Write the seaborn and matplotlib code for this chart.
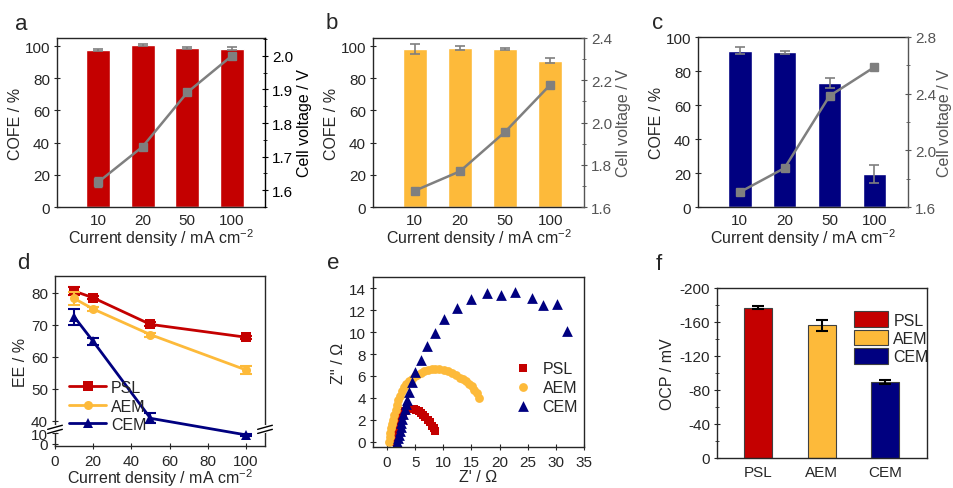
import numpy as np
import pandas as pd
import matplotlib
matplotlib.use('Agg')
import matplotlib.pyplot as plt
import seaborn as sns
from matplotlib.ticker import MultipleLocator, FixedLocator

# ============================================================
# DATA
# ============================================================

densities = ['10', '20', '50', '100']
density_vals = [10, 20, 50, 100]

# panel a (PSL)
cofe_a = [97.3, 100.6, 98.8, 98.4]
cofe_a_err = [0.6, 0.6, 0.5, 0.8]
volt_a = [1.624, 1.730, 1.891, 2.000]
volt_a_err = [0.015, 0.006, 0.006, 0.008]

# panel b (AEM)
cofe_b = [98.3, 98.8, 98.0, 91.0]
cofe_b_err = [3.0, 1.5, 0.5, 1.5]
volt_b = [1.677, 1.769, 1.956, 2.179]
volt_b_err = [0.008, 0.008, 0.008, 0.008]

# panel c (CEM)
cofe_c = [92.0, 91.0, 73.0, 19.5]
cofe_c_err = [2.0, 1.0, 3.0, 5.5]
volt_c = [1.704, 1.875, 2.384, 2.588]
volt_c_err = [0.010, 0.010, 0.012, 0.010]

# panel d (energy efficiency)
ee_psl = [80.5, 78.4, 70.1, 66.1]
ee_psl_err = [1.2, 0.5, 0.6, 0.5]
ee_aem = [78.2, 74.9, 66.9, 55.9]
ee_aem_err = [2.0, 0.5, 0.6, 1.2]
ee_cem = [72.5, 64.8, 40.8, 8.5]
ee_cem_err = [2.5, 1.0, 1.5, 1.0]

# panel e (Nyquist)
psl_zre = [1.2, 1.35, 1.5, 1.7, 1.9, 2.1, 2.35, 2.6, 2.9, 3.2, 3.6, 4.0, 4.4,
           4.8, 5.2, 5.6, 6.0, 6.4, 6.8, 7.2, 7.6, 8.0, 8.3, 8.6]
psl_zim = [0.0, 0.3, 0.6, 1.0, 1.35, 1.7, 2.05, 2.35, 2.6, 2.8, 2.95, 3.0, 3.0,
           2.95, 2.85, 2.75, 2.6, 2.45, 2.25, 2.0, 1.75, 1.45, 1.2, 1.0]
aem_zre = [0.3, 0.45, 0.6, 0.75, 0.9, 1.1, 1.3, 1.5, 1.75, 2.0, 2.3, 2.65, 3.0,
           3.45, 3.9, 4.4, 4.9, 5.4, 6.0, 6.6, 7.2, 7.9, 8.6, 9.3, 10.1, 10.8,
           11.5, 12.2, 12.9, 13.5, 14.1, 14.6, 15.1, 15.5, 15.9, 16.3]
aem_zim = [0.0, 0.4, 0.8, 1.2, 1.6, 2.0, 2.45, 2.9, 3.35, 3.8, 4.2, 4.6, 4.95,
           5.3, 5.55, 5.75, 5.95, 6.1, 6.3, 6.45, 6.55, 6.62, 6.68, 6.65, 6.55,
           6.42, 6.25, 6.05, 5.85, 5.75, 5.55, 5.3, 5.05, 4.75, 4.4, 4.0]
cem_zre = [1.8, 1.95, 2.1, 2.25, 2.4, 2.55, 2.7, 2.9, 3.1, 3.3, 3.5, 3.85, 4.4,
           5.0, 6.0, 7.1, 8.5, 10.2, 12.5, 14.9, 17.7, 20.2, 22.7, 25.7, 27.7,
           30.2, 31.9]
cem_zim = [0.0, 0.3, 0.6, 0.95, 1.3, 1.7, 2.1, 2.55, 3.0, 3.4, 3.8, 4.5, 5.4,
           6.4, 7.47, 8.75, 9.97, 11.25, 12.2, 13.0, 13.6, 13.4, 13.7, 13.1,
           12.5, 12.6, 10.1]

# panel f (OCP)
membranes = ['PSL', 'AEM', 'CEM']
ocp = [-177.0, -156.0, -89.5]
ocp_err = [1.5, 6.0, 2.0]

RED = '#C40000'
YELLOW = '#FDBA3A'
NAVY = '#000080'
GRAY = '#7F7F7F'
colors = {'PSL': RED, 'AEM': YELLOW, 'CEM': NAVY}

XLABEL = 'Current density / mA cm$^{\\mathregular{-2}}$'

# ============================================================
# STYLE
# ============================================================

sns.set_style('ticks')
plt.rcParams['font.family'] = ['Liberation Sans', 'DejaVu Sans']
plt.rcParams['mathtext.fontset'] = 'custom'
plt.rcParams['mathtext.rm'] = 'Liberation Sans'
plt.rcParams['axes.unicode_minus'] = False
plt.rcParams['axes.linewidth'] = 1.0
plt.rcParams['xtick.direction'] = 'inout'
plt.rcParams['ytick.direction'] = 'inout'
plt.rcParams['xtick.major.size'] = 5
plt.rcParams['ytick.major.size'] = 5
plt.rcParams['ytick.minor.size'] = 3
plt.rcParams['xtick.major.pad'] = 3
plt.rcParams['ytick.major.pad'] = 2.5
plt.rcParams['xtick.labelsize'] = 11
plt.rcParams['ytick.labelsize'] = 11
plt.rcParams['axes.labelsize'] = 11.5

fig = plt.figure(figsize=(9.54, 4.89), dpi=100)
W, H = 954, 489


def box(l, r, t, b):
    return [l / W, 1 - b / H, (r - l) / W, (b - t) / H]


# ============================================================
# PANELS a-c : COFE bars + cell voltage line
# ============================================================

bar_panels = [
    (box(57, 265, 39, 208), cofe_a, cofe_a_err, volt_a, volt_a_err, RED,
     (0, 105), (1.55, 2.053), 0.1, 0.05, 'black', 3),
    (box(373, 584, 39, 208), cofe_b, cofe_b_err, volt_b, volt_b_err, YELLOW,
     (0, 105), (1.6, 2.4), 0.2, 0.1, '#555555', 3),
    (box(698, 908, 38, 208), cofe_c, cofe_c_err, volt_c, volt_c_err, NAVY,
     (0, 100), (1.6, 2.8), 0.4, 0.2, '#555555', 1),
]

for (rect, cofe, cofe_err, volt, volt_err, col, ylim1, ylim2, maj, mnr,
     rcol, rpad) in bar_panels:
    ax = fig.add_axes(rect)
    df = pd.DataFrame({'density': densities, 'cofe': cofe})
    sns.barplot(data=df, x='density', y='cofe', color=col, saturation=1,
                width=0.53, ax=ax)
    ax.errorbar(np.arange(len(densities)), cofe, yerr=cofe_err, fmt='none',
                ecolor=GRAY, elinewidth=1.2, capsize=3.5, capthick=1.2)
    ax.set_xlim(-0.925, 3.745)
    ax.set_ylim(*ylim1)
    ax.yaxis.set_major_locator(MultipleLocator(20))
    ax.tick_params(axis='x', length=0, pad=4)
    ax.set_xlabel(XLABEL, labelpad=0)
    ax.set_ylabel('COFE / %', labelpad=1)

    ax2 = ax.twinx()
    ax2.errorbar(np.arange(len(densities)), volt, yerr=volt_err, color=GRAY,
                 marker='s', ms=5.5, lw=1.8, capsize=3, elinewidth=1.2)
    ax2.set_ylim(*ylim2)
    ax2.yaxis.set_major_locator(MultipleLocator(maj))
    ax2.yaxis.set_minor_locator(MultipleLocator(mnr))
    ax2.tick_params(axis='y', which='both', colors=rcol, labelcolor=rcol)
    ax2.spines['right'].set_color(rcol)
    ax2.set_ylabel('Cell voltage / V', color=rcol, labelpad=rpad)
    for s in ['top', 'left', 'bottom']:
        ax2.spines[s].set_visible(False)
    ax.spines['top'].set_visible(True)
    ax.spines['right'].set_visible(False)

# ============================================================
# PANEL d : EE with broken axis
# ============================================================

B_LO, B_HI = 13.0, 37.6
R_LO = 0.33
EPS = 0.02


def fwd(y):
    y = np.asarray(y, dtype=float)
    lo = y * R_LO
    mid = B_LO * R_LO + (y - B_LO) * EPS
    hi = B_LO * R_LO + (B_HI - B_LO) * EPS + (y - B_HI)
    return np.where(y <= B_LO, lo, np.where(y <= B_HI, mid, hi))


def inv(v):
    v = np.asarray(v, dtype=float)
    v1 = B_LO * R_LO
    v2 = v1 + (B_HI - B_LO) * EPS
    lo = v / R_LO
    mid = B_LO + (v - v1) / EPS
    hi = B_HI + (v - v2)
    return np.where(v <= v1, lo, np.where(v <= v2, mid, hi))


axd = fig.add_axes(box(55, 265, 277, 447))
axd.set_yscale('function', functions=(fwd, inv))
ee_series = [('PSL', ee_psl, ee_psl_err, 's'),
             ('AEM', ee_aem, ee_aem_err, 'o'),
             ('CEM', ee_cem, ee_cem_err, '^')]
for name, vals, errs, mk in ee_series:
    sns.lineplot(x=density_vals, y=vals, color=colors[name], marker=mk,
                 markersize=6.5, markeredgewidth=0, lw=2, label=name, ax=axd)
    axd.errorbar(density_vals, vals, yerr=errs, fmt='none',
                 ecolor=colors[name], elinewidth=1.5, capsize=4, capthick=1.5)
axd.set_xlim(0, 110)
axd.set_ylim(-2, 85.2)
axd.xaxis.set_major_locator(MultipleLocator(20))
axd.yaxis.set_major_locator(FixedLocator([0, 10, 40, 50, 60, 70, 80]))
axd.yaxis.set_minor_locator(FixedLocator([]))
axd.set_xlabel(XLABEL, labelpad=-1)
axd.set_ylabel('EE / %', labelpad=2)
axd.legend(loc='lower left', bbox_to_anchor=(0.03, 0.035), frameon=False,
           borderpad=0, handlelength=2.3, handletextpad=0.3,
           labelspacing=0.22, fontsize=11.5)

# break marks on both side spines
y_mid = axd.transAxes.inverted().transform(
    axd.transData.transform((0, (B_LO + B_HI) / 2)))[1]
for xs in (0.0, 1.0):
    axd.plot([xs, xs], [y_mid - 0.012, y_mid + 0.012], color='white', lw=3,
             transform=axd.transAxes, clip_on=False, zorder=5)
    for dy in (-0.012, 0.012):
        axd.plot([xs - 0.035, xs + 0.035], [y_mid + dy - 0.012, y_mid + dy + 0.012],
                 color='black', lw=1, transform=axd.transAxes, clip_on=False,
                 zorder=6)

# ============================================================
# PANEL e : Nyquist plot
# ============================================================

axe = fig.add_axes(box(373, 584, 278, 448))
nyq = [('PSL', psl_zre, psl_zim, 's', 26),
       ('AEM', aem_zre, aem_zim, 'o', 40),
       ('CEM', cem_zre, cem_zim, '^', 60)]
for name, zre, zim, mk, sz in nyq:
    sns.scatterplot(x=zre, y=zim, color=colors[name], marker=mk, s=sz,
                    linewidth=0, label=name, ax=axe)
axe.set_xlim(-2.5, 35)
axe.set_ylim(-0.5, 15.05)
axe.xaxis.set_major_locator(MultipleLocator(5))
axe.yaxis.set_major_locator(MultipleLocator(2))
axe.set_xlabel("Z' / Ω", labelpad=0)
axe.set_ylabel("Z'' / Ω", labelpad=2)
axe.legend(loc='lower left', bbox_to_anchor=(0.63, 0.15), frameon=False,
           borderpad=0, handlelength=1.2, handletextpad=0.6,
           labelspacing=0.25, fontsize=11.5)

# ============================================================
# PANEL f : OCP bars
# ============================================================

axf = fig.add_axes(box(717, 927, 289, 459))
dff = pd.DataFrame({'membrane': membranes, 'ocp': ocp})
sns.barplot(data=dff, x='membrane', y='ocp', hue='membrane', palette=colors,
            saturation=1, width=0.44, edgecolor='#404040', linewidth=0.8,
            legend=False, ax=axf)
axf.errorbar(np.arange(len(membranes)), ocp, yerr=ocp_err, fmt='none',
             ecolor='black', elinewidth=1.5, capsize=4, capthick=1.5)
axf.set_xlim(-0.645, 2.66)
axf.set_ylim(0, -200)
axf.yaxis.set_major_locator(MultipleLocator(40))
axf.yaxis.set_minor_locator(MultipleLocator(20))
axf.tick_params(axis='x', length=0, pad=5)
axf.set_xlabel('')
axf.set_ylabel('OCP / mV', labelpad=3)
axf.legend(axf.patches[:3], membranes, loc='upper left',
           bbox_to_anchor=(0.615, 0.91), frameon=False, borderpad=0,
           handlelength=2.1, handleheight=1.15, handletextpad=0.35,
           labelspacing=0.12, fontsize=11.5)

for a in [axd, axe, axf]:
    for s in a.spines.values():
        s.set_visible(True)

# ============================================================
# PANEL LETTERS
# ============================================================

letters = [('a', 15, 30), ('b', 326, 29), ('c', 652, 29),
           ('d', 17, 269), ('e', 327, 269), ('f', 656, 270)]
for txt, px, py in letters:
    fig.text(px / W, 1 - py / H, txt, fontsize=16, ha='left', va='baseline')

fig.savefig('out.png', dpi=100)
